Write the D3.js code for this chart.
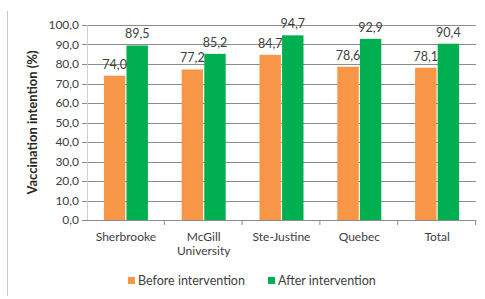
<!DOCTYPE html>
<html>
<head>
<meta charset="utf-8">
<script src="https://cdn.jsdelivr.net/npm/d3@7"></script>
<style>
  body { margin: 0; background: #fff; }
  svg { display: block; font-family: Lato, "Open Sans", sans-serif; }
</style>
</head>
<body>
<svg id="chart" width="485" height="299"></svg>
<script>
"use strict";

// chart data
const categories = [["Sherbrooke"], ["McGill", "University"], ["Ste-Justine"], ["Quebec"], ["Total"]];
const beforeValues = [74.0, 77.2, 84.7, 78.6, 78.1];
const afterValues = [89.5, 85.2, 94.7, 92.9, 90.4];
const seriesNames = ["Before intervention", "After intervention"];
const yTicks = [0, 10, 20, 30, 40, 50, 60, 70, 80, 90, 100];

const colors = ["#F79646", "#00B050"];
const fmt = (v) => v.toFixed(1).replace(".", ",");

const svg = d3.select("#chart");
const margin = { top: 25, right: 9, bottom: 79, left: 87 };
const width = 485 - margin.left - margin.right;
const height = 299 - margin.top - margin.bottom;

// left frame edge of the original picture
svg.append("line")
    .attr("x1", 7.5).attr("x2", 7.5)
    .attr("y1", 11).attr("y2", 296)
    .attr("stroke", "#c8c8c8");

const g = svg.append("g").attr("transform", `translate(${margin.left},${margin.top})`);

const x = d3.scaleBand()
    .domain(d3.range(categories.length))
    .range([0, width]);

const x1 = d3.scaleBand()
    .domain([0, 1])
    .range([0, 44])
    .paddingInner(0.05);

const y = d3.scaleLinear().domain([0, 100]).range([height, 0]);

// gridlines
g.append("g")
    .selectAll("line")
    .data(yTicks)
    .join("line")
    .attr("x1", -5).attr("x2", width)
    .attr("y1", (d) => Math.round(y(d)) + 0.5)
    .attr("y2", (d) => Math.round(y(d)) + 0.5)
    .attr("stroke", "#8c8c8c");

// y axis line
g.append("line")
    .attr("x1", 0.5).attr("x2", 0.5)
    .attr("y1", 0).attr("y2", height)
    .attr("stroke", "#d0d0d0");

// y tick labels
g.append("g")
    .selectAll("text")
    .data(yTicks)
    .join("text")
    .attr("x", -8)
    .attr("y", (d) => y(d))
    .attr("dy", "0.35em")
    .attr("text-anchor", "end")
    .attr("font-size", 12)
    .attr("fill", "#404040")
    .text(fmt);

// x axis with category separators
g.append("g")
    .attr("transform", `translate(0,${height})`)
    .call(d3.axisBottom(x).tickSize(0).tickFormat(""))
    .call((a) => a.select(".domain").attr("stroke", "#8c8c8c"));

g.append("g")
    .selectAll("line")
    .data(d3.range(1, categories.length + 1))
    .join("line")
    .attr("x1", (d) => d * x.step() - 0.5).attr("x2", (d) => d * x.step() - 0.5)
    .attr("y1", height).attr("y2", height + 5)
    .attr("stroke", "#8c8c8c");

const groups = g.append("g")
    .selectAll("g")
    .data(categories.map((c, i) => ({ i, vals: [beforeValues[i], afterValues[i]] })))
    .join("g")
    .attr("transform", (d) => `translate(${x(d.i) + (x.bandwidth() - 44) / 2},0)`);

groups.selectAll("rect")
    .data((d) => d.vals)
    .join("rect")
    .attr("x", (d, j) => x1(j))
    .attr("y", (d) => y(d))
    .attr("width", x1.bandwidth())
    .attr("height", (d) => height - y(d))
    .attr("fill", (d, j) => colors[j]);

groups.selectAll("text")
    .data((d) => d.vals)
    .join("text")
    .attr("x", (d, j) => x1(j) + x1.bandwidth() / 2)
    .attr("y", (d) => y(d) - 7)
    .attr("text-anchor", "middle")
    .attr("font-size", 12.5)
    .attr("fill", "#404040")
    .text(fmt);

// category labels
g.append("g")
    .selectAll("text")
    .data(categories)
    .join("text")
    .attr("x", (d, i) => x(i) + x.bandwidth() / 2)
    .attr("y", height + 21)
    .attr("text-anchor", "middle")
    .attr("font-size", 12)
    .attr("fill", "#404040")
    .selectAll("tspan")
    .data((d) => d)
    .join("tspan")
    .attr("x", function () { return this.parentNode.getAttribute("x"); })
    .attr("dy", (d, k) => (k === 0 ? 0 : 14))
    .text((d) => d);

// y axis title
svg.append("text")
    .attr("transform", `translate(37,${margin.top + height / 2}) rotate(-90)`)
    .attr("text-anchor", "middle")
    .attr("font-size", 13)
    .attr("font-weight", "bold")
    .attr("fill", "#262626")
    .text("Vaccination intention (%)");

// legend
const legendX = [128, 268];
const legend = svg.append("g")
    .selectAll("g")
    .data(seriesNames)
    .join("g")
    .attr("transform", (d, i) => `translate(${legendX[i]},277)`);

legend.append("rect")
    .attr("width", 7).attr("height", 7)
    .attr("fill", (d, i) => colors[i]);

legend.append("text")
    .attr("x", 10)
    .attr("y", 4)
    .attr("dy", "0.35em")
    .attr("font-size", 12.5)
    .attr("fill", "#404040")
    .text((d) => d);
</script>
</body>
</html>
